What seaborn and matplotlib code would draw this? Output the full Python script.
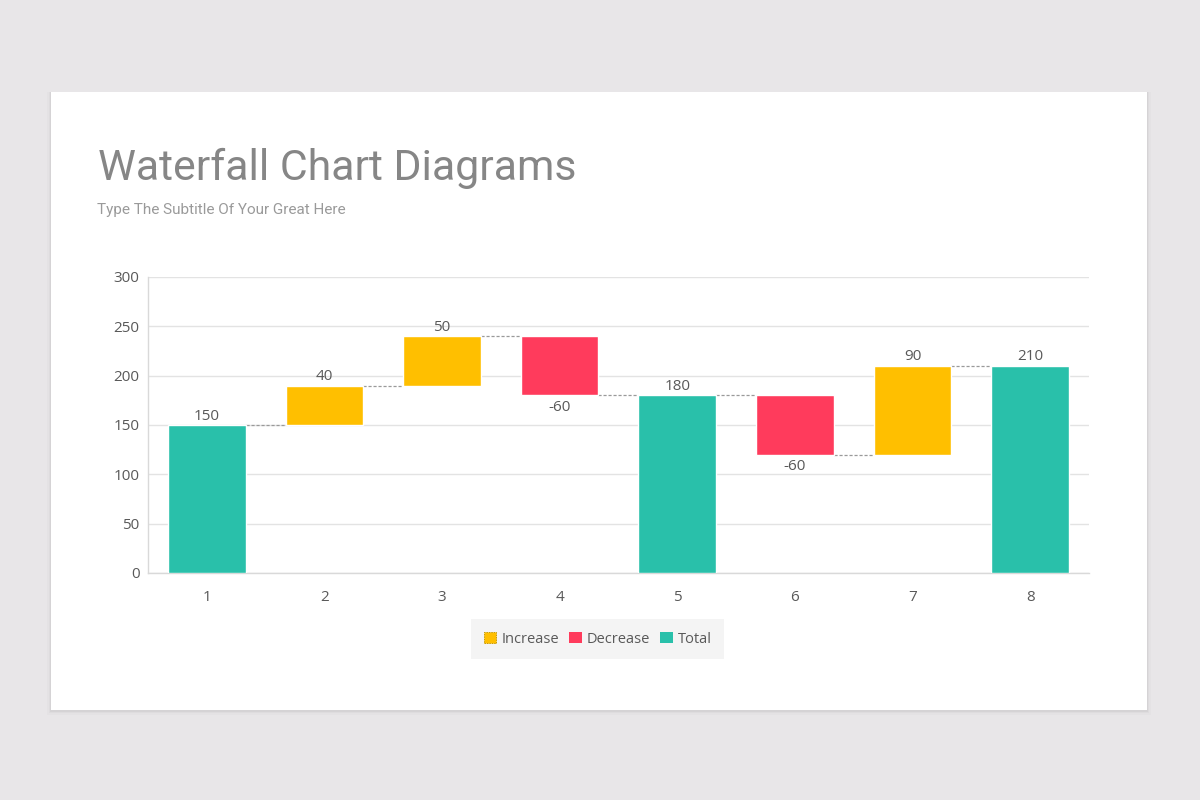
import matplotlib.pyplot as plt
import matplotlib.patches as mpatches
import pandas as pd
import seaborn as sns

# waterfall data
steps = ["1", "2", "3", "4", "5", "6", "7", "8"]
values = [150, 40, 50, -60, 180, -60, 90, 210]
kinds = ["Total", "Increase", "Increase", "Decrease", "Total", "Decrease", "Increase", "Total"]
kind_order = ["Increase", "Decrease", "Total"]
colors = {"Increase": "#FFBF00", "Decrease": "#FF3B5C", "Total": "#29C0AA"}

# work out where each floating bar sits
bottoms, heights, ends = [], [], []
running = 0
for v, k in zip(values, kinds):
    if k == "Total":
        bottoms.append(0)
        heights.append(v)
        running = v
    else:
        bottoms.append(min(running, running + v))
        heights.append(abs(v))
        running += v
    ends.append(running)

df = pd.DataFrame({"step": steps, "value": values, "kind": kinds,
                   "bottom": bottoms, "height": heights, "end": ends})

sns.set_theme(style="white")
plt.rcParams["font.family"] = ["Open Sans", "DejaVu Sans"]

fig = plt.figure(figsize=(12, 8), dpi=100)
fig.patch.set_facecolor("#e8e6e8")

# card with a soft shadow
for i, a in enumerate([0.035, 0.025, 0.015]):
    off = (i + 1) * 0.002
    fig.patches.append(mpatches.Rectangle((0.0425 - off / 2, 0.1125 - off), 0.9133 + off, 0.7725 + off,
                                          transform=fig.transFigure, facecolor="#000000", alpha=a,
                                          edgecolor="none", zorder=0))
fig.patches.append(mpatches.Rectangle((0.0425, 0.1125), 0.9133, 0.7725, transform=fig.transFigure,
                                      facecolor="white", edgecolor="none", zorder=1))

fig.text(0.0815, 0.7745, "Waterfall Chart Diagrams", fontsize=30.8, color="#868686",
         family=["Roboto", "DejaVu Sans"], va="baseline", ha="left")
fig.text(0.081, 0.7325, "Type The Subtitle Of Your Great Here", fontsize=11, color="#9a9a9a",
         family=["Roboto", "DejaVu Sans"], va="baseline", ha="left")

ax = fig.add_axes([0.1233, 0.28375, 0.7842, 0.37])
ax.set_facecolor("none")
ax.set_zorder(2)

for k in kind_order:
    sub = df[df["kind"] == k]
    sns.barplot(data=sub, x="step", y="height", order=steps, color=colors[k], width=0.66,
                saturation=1, errorbar=None, bottom=sub["bottom"].values, ax=ax, zorder=3)

# dashed connectors between bars
for i in range(len(steps) - 1):
    ax.plot([i + 0.33, i + 0.67], [ends[i], ends[i]], color="#9a9a9a", lw=0.9,
            ls=(0, (2.5, 1.5)), zorder=2)

# value labels
for i, row in df.iterrows():
    if row["kind"] == "Decrease":
        ax.annotate(str(row["value"]), (i, row["bottom"]), xytext=(0, -3), textcoords="offset points",
                    ha="center", va="top", fontsize=11, color="#595959")
    else:
        ax.annotate(str(row["value"]), (i, row["bottom"] + row["height"]), xytext=(0, 1),
                    textcoords="offset points", ha="center", va="bottom", fontsize=11, color="#595959")

ax.set_ylim(0, 300)
ax.set_xlim(-0.5, 7.5)
ax.set_yticks(range(0, 301, 50))
ax.yaxis.grid(True, color="#e3e3e3", lw=1)
ax.set_axisbelow(True)
ax.set_xlabel("")
ax.set_ylabel("")
sns.despine(ax=ax)
for s in ["left", "bottom"]:
    ax.spines[s].set_color("#d9d9d9")
    ax.spines[s].set_linewidth(1)
ax.tick_params(axis="both", length=0, labelsize=11, colors="#595959")
ax.tick_params(axis="x", pad=12)
ax.tick_params(axis="y", pad=6)

handles = []
for k in kind_order:
    if k == "Increase":
        handles.append(mpatches.Patch(facecolor=colors[k], edgecolor="#c99a00", linestyle=(0, (1.5, 1)),
                                      linewidth=0.7, label=k))
    else:
        handles.append(mpatches.Patch(facecolor=colors[k], edgecolor="none", label=k))
leg = ax.legend(handles=handles, loc="center", bbox_to_anchor=(0.478, -0.223), ncol=3, frameon=True,
                fontsize=10.5, handlelength=0.85, handleheight=0.85, handletextpad=0.35, columnspacing=0.7,
                borderpad=0.85, labelcolor="#595959")
leg.get_frame().set_facecolor("#f2f2f2")
leg.get_frame().set_edgecolor("none")
leg.get_frame().set_boxstyle("square", pad=0)

fig.savefig("out.png", dpi=100, facecolor=fig.get_facecolor())
